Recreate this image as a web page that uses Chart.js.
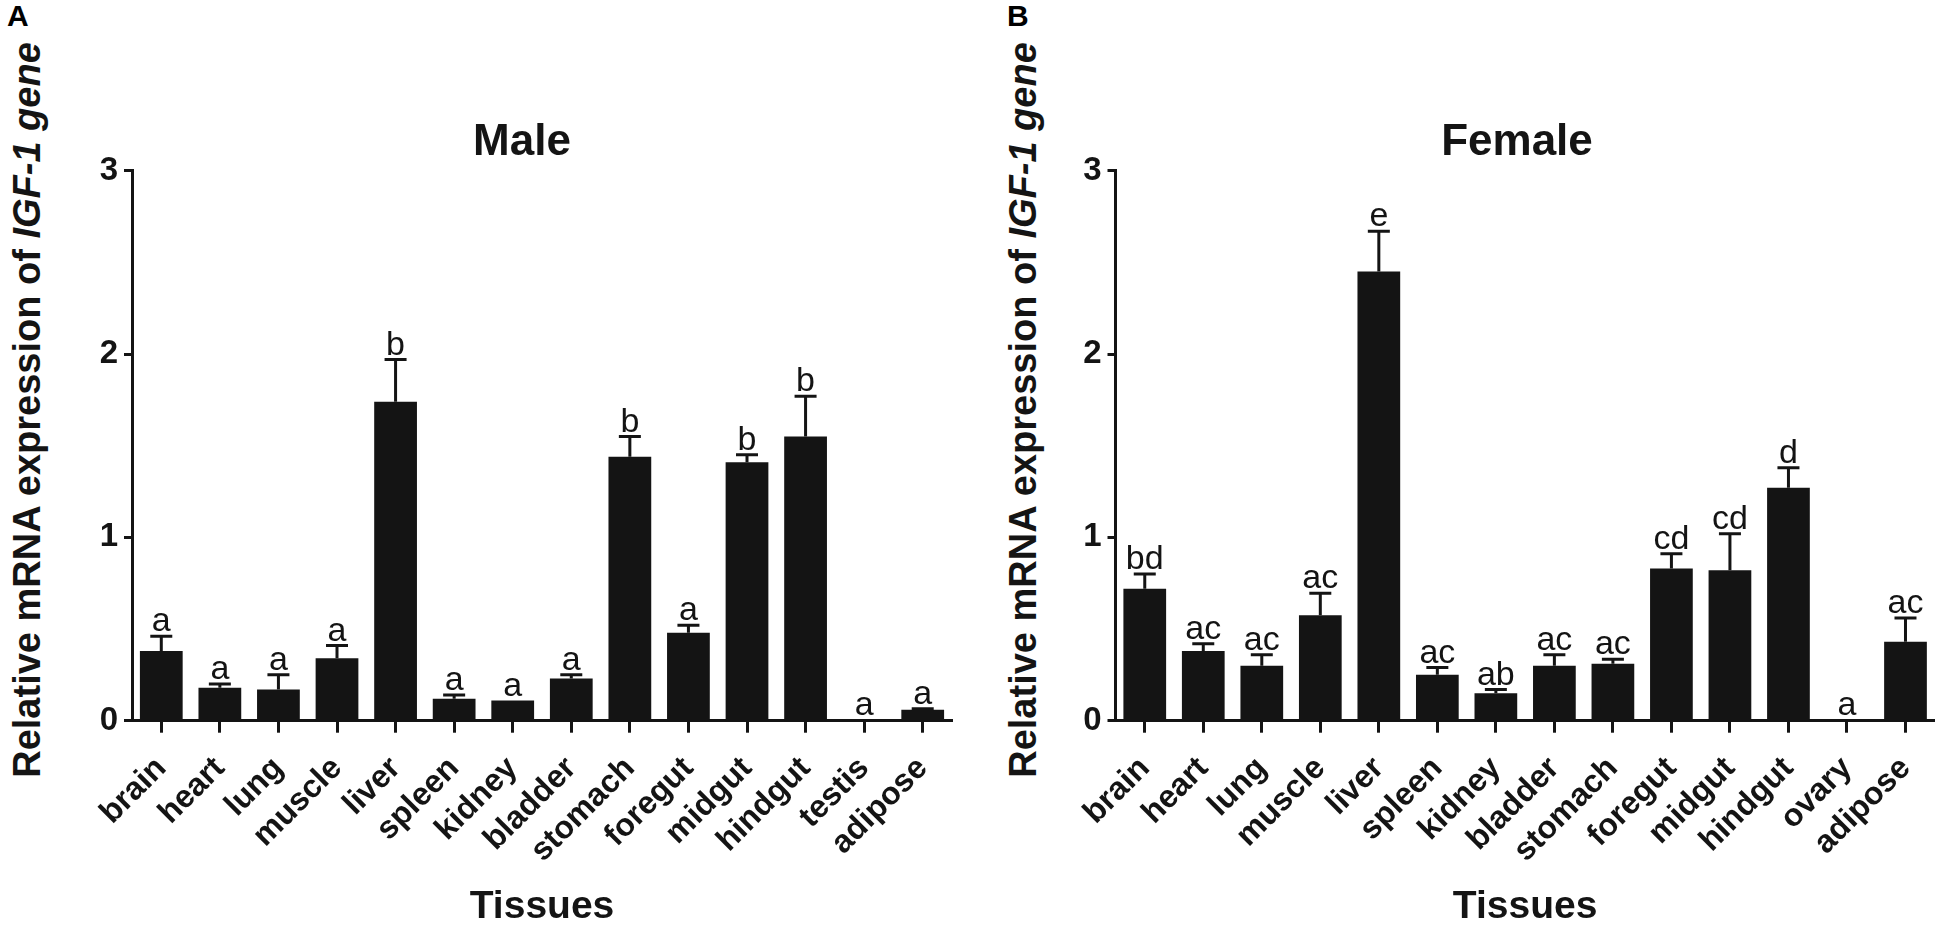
<!DOCTYPE html>
<html>
<head>
<meta charset="utf-8">
<script src="https://cdn.jsdelivr.net/npm/chart.js@4.4.1/dist/chart.umd.min.js"></script>
<style>
  body { margin: 0; background: #fff; width: 1950px; height: 927px; overflow: hidden; position: relative;
         font-family: "Liberation Sans", Arial, sans-serif; color: #141414; }
  canvas { position: absolute; top: 0; }
  .panel { position: absolute; top: 1px; font-weight: bold; font-size: 30px; line-height: 1; color: #000; }
  .ytitle { position: absolute; top: 410px; font-weight: bold; font-size: 38px; line-height: 1; white-space: nowrap;
            transform: translate(-50%, -50%) rotate(-90deg); }
</style>
</head>
<body>
<div class="panel" style="left:7px">A</div>
<div class="panel" style="left:1007px">B</div>
<div class="ytitle" style="left:27px">Relative mRNA expression of <i>IGF-1 gene</i></div>
<div class="ytitle" style="left:1023px">Relative mRNA expression of <i>IGF-1 gene</i></div>
<canvas id="male" width="905" height="927" style="left:70px"></canvas>
<canvas id="female" width="900" height="927" style="left:1050px"></canvas>
<script>
// tissues on the x axis
const tissuesMale = ['brain', 'heart', 'lung', 'muscle', 'liver', 'spleen', 'kidney', 'bladder',
                     'stomach', 'foregut', 'midgut', 'hindgut', 'testis', 'adipose'];
const tissuesFemale = ['brain', 'heart', 'lung', 'muscle', 'liver', 'spleen', 'kidney', 'bladder',
                       'stomach', 'foregut', 'midgut', 'hindgut', 'ovary', 'adipose'];

// relative expression (mean) and error (top of bar to top of whisker)
const maleMean = [0.38, 0.18, 0.17, 0.34, 1.74, 0.12, 0.11, 0.23, 1.44, 0.48, 1.41, 1.55, 0.005, 0.06];
const maleErr = [0.08, 0.02, 0.08, 0.07, 0.23, 0.02, 0, 0.02, 0.11, 0.04, 0.04, 0.22, 0, 0.005];
const maleLetters = ['a', 'a', 'a', 'a', 'b', 'a', 'a', 'a', 'b', 'a', 'b', 'b', 'a', 'a'];

const femaleMean = [0.72, 0.38, 0.30, 0.575, 2.45, 0.25, 0.15, 0.30, 0.31, 0.83, 0.82, 1.27, 0.005, 0.43];
const femaleErr = [0.08, 0.04, 0.06, 0.12, 0.22, 0.04, 0.02, 0.06, 0.025, 0.08, 0.20, 0.11, 0, 0.13];
const femaleLetters = ['bd', 'ac', 'ac', 'ac', 'e', 'ac', 'ab', 'ac', 'ac', 'cd', 'cd', 'd', 'a', 'ac'];

const yTicks = [0, 1, 2, 3];

const ink = '#141414';
const family = '"Liberation Sans", Arial, sans-serif';

function makeErrorBars(err, letters) {
    return {
        id: 'errorBars',
        afterDatasetsDraw(chart) {
            const ctx = chart.ctx;
            const y = chart.scales.y;
            const means = chart.data.datasets[0].data;
            ctx.save();
            ctx.strokeStyle = ink;
            ctx.fillStyle = ink;
            ctx.lineWidth = 3;
            ctx.font = '34px ' + family;
            ctx.textAlign = 'center';
            ctx.textBaseline = 'alphabetic';
            chart.getDatasetMeta(0).data.forEach((bar, i) => {
                const base = y.getPixelForValue(means[i]);
                const top = y.getPixelForValue(means[i] + err[i]);
                if (err[i] > 0) {
                    ctx.beginPath();
                    ctx.moveTo(bar.x, base);
                    ctx.lineTo(bar.x, top);
                    ctx.moveTo(bar.x - 11, top);
                    ctx.lineTo(bar.x + 11, top);
                    ctx.stroke();
                }
                ctx.fillText(letters[i], bar.x, top - 5);
            });
            ctx.restore();
        }
    };
}

// the panel title sits a bit left of the plot centre, so move its box after layout
function centreTitle(x) {
    return {
        id: 'centreTitle',
        afterLayout(chart) {
            const tb = chart.titleBlock;
            if (!tb) return;
            const shift = x - (tb.left + tb.right) / 2;
            tb.left += shift;
            tb.right += shift;
        }
    };
}

function BuildPanel(canvasId, title, labels, means, err, letters, pad, titleX) {
    const data = {
        labels: labels,
        datasets: [{
            data: means,
            backgroundColor: ink,
            borderWidth: 0,
            barPercentage: 0.73,
            categoryPercentage: 1.0
        }]
    };

    const config = {
        type: 'bar',
        data: data,
        options: {
            responsive: false,
            animation: false,
            layout: { padding: pad },
            plugins: {
                legend: { display: false },
                tooltip: { enabled: false },
                title: {
                    display: true,
                    text: title,
                    color: ink,
                    font: { family: family, size: 44, weight: 'bold', lineHeight: 1.2 },
                    padding: { top: 116.6, bottom: 1.3 }
                }
            },
            scales: {
                x: {
                    grid: { drawOnChartArea: false, offset: false, tickLength: 12, tickWidth: 3, color: ink },
                    border: { display: true, width: 3, color: ink },
                    ticks: {
                        autoSkip: false, minRotation: 45, maxRotation: 45, padding: 17, color: ink,
                        font: { family: family, size: 32, weight: 'bold' }
                    },
                    title: {
                        display: true, text: 'Tissues', color: ink, padding: 0,
                        font: { family: family, size: 39, weight: 'bold', lineHeight: 1 }
                    },
                    afterFit(s) { s.height = 206.3; }
                },
                y: {
                    min: 0,
                    max: 3,
                    grid: { drawOnChartArea: false, tickLength: 8, tickWidth: 3, color: ink },
                    border: { display: true, width: 3, color: ink },
                    ticks: { padding: 6, color: ink, font: { family: family, size: 33, weight: 'bold' } },
                    afterBuildTicks(s) { s.ticks = yTicks.map(v => ({ value: v })); },
                    afterFit(s) { s.width = 40; }
                }
            }
        },
        plugins: [makeErrorBars(err, letters), centreTitle(titleX)]
    };

    return new Chart(document.getElementById(canvasId), config);
}

BuildPanel('male', 'Male', tissuesMale, maleMean, maleErr, maleLetters,
           { left: 22, right: 23, top: 0, bottom: 0 }, 452);
BuildPanel('female', 'Female', tissuesFemale, femaleMean, femaleErr, femaleLetters,
           { left: 25.5, right: 10, top: 0, bottom: 0 }, 467);
</script>
</body>
</html>
